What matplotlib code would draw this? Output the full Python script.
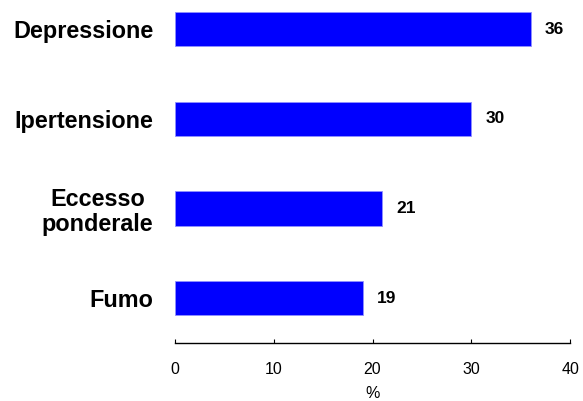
import numpy as np
import matplotlib.pyplot as plt

plt.rcParams['font.family'] = ['Liberation Sans', 'DejaVu Sans']

categorie = ["Fumo", "Eccesso\nponderale", "Ipertensione", "Depressione"]
valori = [19, 21, 30, 36]
xticks = [0, 10, 20, 30, 40]

fig = plt.figure(figsize=(5.83, 4.01), dpi=100)
ax = fig.add_axes([0.2997, 0.1446, 0.6786, 0.8554])

y = np.arange(len(categorie))
ax.barh(y, valori, height=0.38, color='#0000FF', edgecolor='#9090ff', linewidth=0.6)

# valori a destra delle barre
for yi, v in zip(y, valori):
    ax.text(v + 1.45, yi, str(v), va='center', ha='left', fontsize=12.5, fontweight='bold')

ax.set_xlim(0, 40)
ax.set_ylim(-0.5, 3.324)
ax.set_xticks(xticks)
ax.set_yticks(y)
ax.set_yticklabels(categorie, fontsize=16.8, fontweight='bold', linespacing=1.12)
for lbl in ax.get_yticklabels():
    lbl.set_multialignment('center')
ax.tick_params(axis='y', length=0, pad=15.5)
ax.tick_params(axis='x', direction='in', length=3, labelsize=11.5, pad=14)

for s in ['top', 'right', 'left']:
    ax.spines[s].set_visible(False)
ax.spines['bottom'].set_linewidth(1.0)
ax.set_xlabel('%', fontsize=11.5, labelpad=6)

fig.savefig('out.png', dpi=100)
